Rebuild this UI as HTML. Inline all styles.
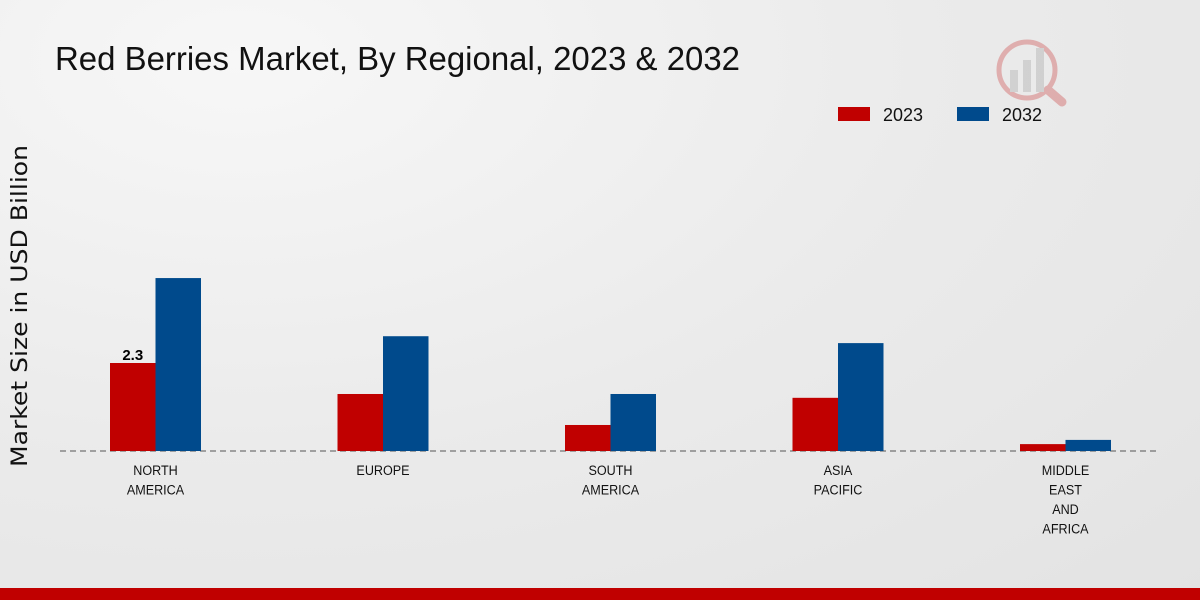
<!DOCTYPE html>
<html><head><meta charset="utf-8"><style>
body{margin:0;width:1200px;height:600px;overflow:hidden;font-family:"Liberation Sans",sans-serif;}
#bg{position:absolute;left:0;top:0;width:1200px;height:600px;background:radial-gradient(ellipse at 20% 10%,#f7f7f7 0%,#ebebeb 50%,#e3e3e3 100%);}
</style></head><body>
<div id="bg"></div>
<svg id="chart" width="1200" height="600" style="position:absolute;left:0;top:0">
<text x="55" y="70" font-size="33" fill="#111" textLength="685" lengthAdjust="spacingAndGlyphs">Red Berries Market, By Regional, 2023 &amp; 2032</text>
<text transform="translate(27,306) rotate(-90)" text-anchor="middle" font-size="22" fill="#111" font-family="DejaVu Sans, sans-serif" textLength="322" lengthAdjust="spacingAndGlyphs">Market Size in USD Billion</text>
<g>
<rect x="838" y="107" width="32" height="14" fill="#c00000"/>
<text x="883" y="121" font-size="18" fill="#111" textLength="40" lengthAdjust="spacingAndGlyphs">2023</text>
<rect x="957" y="107" width="32" height="14" fill="#004a8c"/>
<text x="1002" y="121" font-size="18" fill="#111" textLength="40" lengthAdjust="spacingAndGlyphs">2032</text>
</g>
<g opacity="0.25">
<circle cx="1027" cy="70" r="28" fill="none" stroke="#c00000" stroke-width="5"/>
<line x1="1048" y1="90" x2="1062" y2="102" stroke="#c00000" stroke-width="9" stroke-linecap="round"/>
<rect x="1010" y="70" width="8" height="22" fill="#888"/><rect x="1023" y="60" width="8" height="32" fill="#888"/><rect x="1036" y="48" width="8" height="44" fill="#888"/>
</g>
<line x1="60" y1="451" x2="1160" y2="451" stroke="#555" stroke-dasharray="6,4"/>
<g id="bars"></g>
<rect x="0" y="588" width="1200" height="12" fill="#c00000"/>
</svg>
<script>
const categories=[["NORTH","AMERICA"],["EUROPE"],["SOUTH","AMERICA"],["ASIA","PACIFIC"],["MIDDLE","EAST","AND","AFRICA"]];
const values2023=[2.3,1.49,0.68,1.39,0.18];
const values2032=[4.52,3.0,1.49,2.82,0.29];
const labels2023=["2.3","","","",""];
const base=451,scale=38.26,x0=155.5,step=227.5,bw=45.5;
const y=v=>base-v*scale, x=i=>x0+i*step;
const g=document.getElementById('bars');const ns="http://www.w3.org/2000/svg";
categories.forEach((c,i)=>{
 [[values2023,'#c00000','2023',-bw],[values2032,'#004a8c','2032',0]].forEach(([arr,col,s,off])=>{
  const r=document.createElementNS(ns,'rect');
  r.setAttribute('x',x(i)+off);r.setAttribute('y',y(arr[i]));r.setAttribute('width',bw);r.setAttribute('height',base-y(arr[i]));r.setAttribute('fill',col);
  
  
  g.appendChild(r);
 });
 if(labels2023[i]){const t=document.createElementNS(ns,'text');t.setAttribute('x',x(i)-bw/2);t.setAttribute('y',y(values2023[i])-3);t.setAttribute('text-anchor','middle');t.setAttribute('font-size','15');t.setAttribute('font-weight','bold');t.textContent=labels2023[i];
  
  
  g.appendChild(t);}
 c.forEach((line,j)=>{const t=document.createElementNS(ns,'text');t.setAttribute('x',x(i));t.setAttribute('y',475+j*19.5);t.setAttribute('text-anchor','middle');t.setAttribute('font-size','14');t.setAttribute('fill','#111');t.setAttribute('transform','translate('+x(i)+',0) scale(0.9,1) translate('+(-x(i))+',0)');t.textContent=line;
  
  
  g.appendChild(t);});
});
</script>
</body></html>
